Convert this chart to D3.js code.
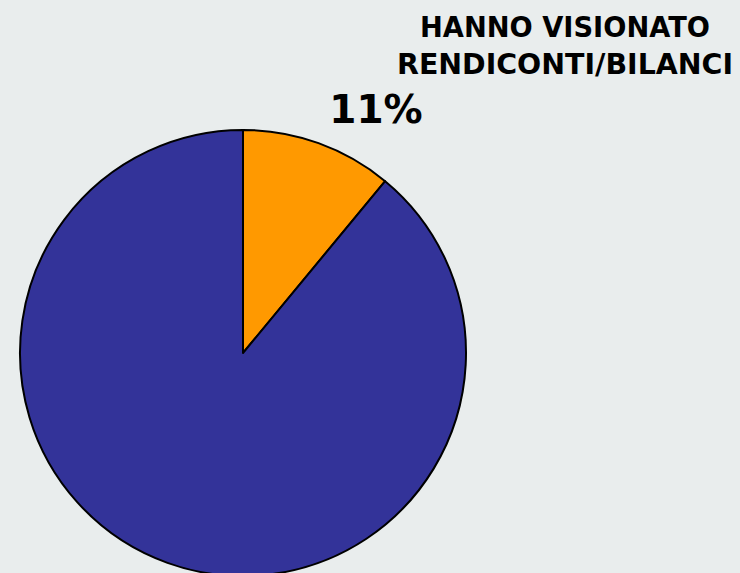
<!DOCTYPE html>
<html>
<head>
<meta charset="utf-8">
<script src="https://cdn.jsdelivr.net/npm/d3@7"></script>
<style>
  html, body { margin: 0; padding: 0; background: #e9eded; }
  svg { display: block; }
</style>
</head>
<body>
<svg id="pie"></svg>
<script>
// Slice data
const categories = ["HANNO VISIONATO RENDICONTI/BILANCI", "ALTRI"];
const values = [11, 89];
const colors = ["#ff9900", "#333399"];
const titleLines = ["HANNO VISIONATO", "RENDICONTI/BILANCI"];

const W = 740, H = 573;
const svg = d3.select("svg#pie").attr("width", W).attr("height", H);

const cx = 243, cy = 353, radius = 223;

const pie = d3.pie().sort(null).value(d => d)(values);
const arc = d3.arc().innerRadius(0).outerRadius(radius);

const g = svg.append("g").attr("transform", `translate(${cx}, ${cy})`);

g.selectAll("path")
    .data(pie)
    .enter()
    .append("path")
    .attr("d", arc)
    .attr("fill", (d, i) => colors[i])
    .attr("stroke", "#000")
    .attr("stroke-width", 2)
    .attr("stroke-linejoin", "round");

// Title of the highlighted slice
svg.append("text")
    .attr("x", 565)
    .attr("y", 37)
    .attr("text-anchor", "middle")
    .attr("font-family", "DejaVu Sans")
    .attr("font-weight", "bold")
    .attr("font-size", "28px")
    .selectAll("tspan")
    .data(titleLines)
    .enter()
    .append("tspan")
    .attr("x", 565)
    .attr("dy", (d, i) => i === 0 ? 0 : 37)
    .attr("textLength", (d, i) => i === 0 ? 290 : 336)
    .attr("lengthAdjust", "spacingAndGlyphs")
    .text(d => d);

// Percentage label
svg.append("text")
    .attr("x", 376)
    .attr("y", 123)
    .attr("text-anchor", "middle")
    .attr("font-family", "DejaVu Sans")
    .attr("font-weight", "bold")
    .attr("font-size", "39px")
    .text(`${values[0]}%`);
</script>
</body>
</html>
